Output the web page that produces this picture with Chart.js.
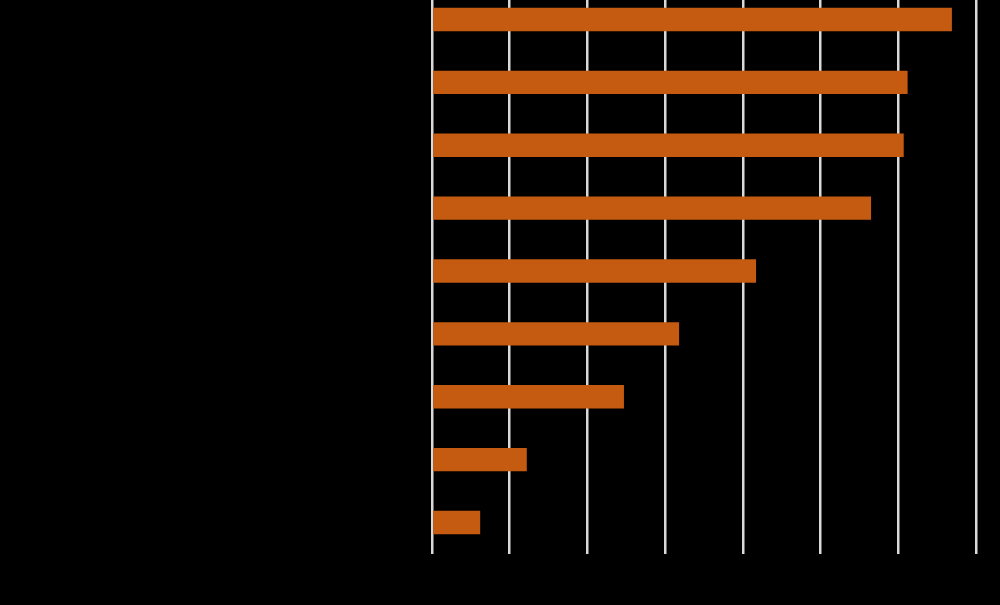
<!DOCTYPE html>
<html>
<head>
<meta charset="utf-8">
<script src="https://cdn.jsdelivr.net/npm/chart.js@4/dist/chart.umd.min.js"></script>
<style>
    html, body { margin: 0; padding: 0; background: #000; overflow: hidden; }
    #wrap { position: absolute; left: 0; top: -12px; width: 1000px; height: 617px; }
</style>
</head>
<body>
<div id="wrap"><canvas id="barChart"></canvas></div>
<script>
// categories (their labels are not visible in the picture)
const categories = ['1', '2', '3', '4', '5', '6', '7', '8', '9'];
const values = [66.9, 61.2, 60.7, 56.5, 41.7, 31.8, 24.7, 12.2, 6.2];
const xTicks = [0, 10, 20, 30, 40, 50, 60, 70];

const colors = {
    bar: '#C55A11',
    grid: '#d9d9d9',
    bg: '#000000'
};

const bgPlugin = {
    id: 'bg',
    beforeDraw(chart) {
        const ctx = chart.ctx;
        ctx.save();
        ctx.fillStyle = colors.bg;
        ctx.fillRect(0, 0, chart.width, chart.height);
        ctx.restore();
    }
};

new Chart(document.getElementById('barChart'), {
    type: 'bar',
    data: {
        labels: categories,
        datasets: [{
            data: values,
            backgroundColor: colors.bar,
            borderWidth: 0,
            barPercentage: 0.62,
            categoryPercentage: 0.6
        }]
    },
    options: {
        indexAxis: 'y',
        responsive: true,
        maintainAspectRatio: false,
        animation: false,
        layout: { padding: { left: 424, right: 24, top: 0, bottom: 51 } },
        plugins: {
            legend: { display: false },
            tooltip: { enabled: false }
        },
        scales: {
            x: {
                min: xTicks[0],
                max: xTicks[xTicks.length - 1],
                afterBuildTicks: axis => { axis.ticks = xTicks.map(v => ({ value: v })); },
                ticks: { display: false },
                border: { display: false },
                grid: { color: colors.grid, lineWidth: 2.5, drawTicks: false }
            },
            y: {
                ticks: { display: false },
                border: { display: false },
                grid: { display: false }
            }
        }
    },
    plugins: [bgPlugin]
});
</script>
</body>
</html>
